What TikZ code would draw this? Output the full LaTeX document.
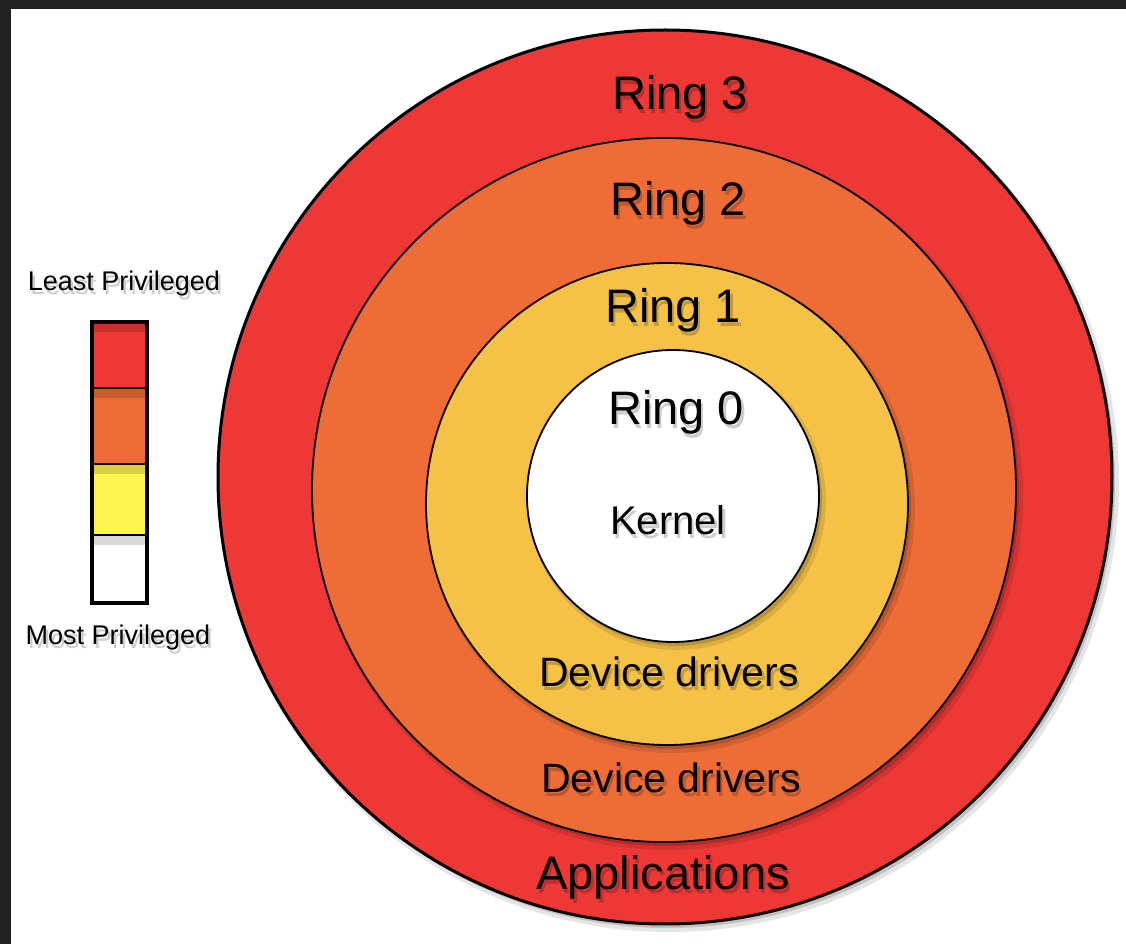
\documentclass[tikz,border=0pt]{standalone}
\usepackage{fontspec}
\setmainfont{Liberation Sans}
\usetikzlibrary{positioning}

\definecolor{ringred}{RGB}{238,56,54}
\definecolor{ringorange}{RGB}{238,109,55}
\definecolor{ringgold}{RGB}{246,194,69}
\definecolor{baryellow}{RGB}{254,245,78}
\definecolor{darkframe}{RGB}{34,34,34}

% text with a soft drop shadow: name, position, font size, text
\newcommand{\ringtext}[4]{%
  \node[font=\fontsize{#3}{#3}\selectfont, black, opacity=.2, xshift=1.2pt, yshift=-2pt] at (#2) {#4};
  \node[font=\fontsize{#3}{#3}\selectfont, black] (#1) at (#2) {#4};
}

\begin{document}
\begin{tikzpicture}[x=0.5pt, y=0.5pt]
        \useasboundingbox (0,0) rectangle (1126,944);

        % Frame and paper
        \fill[darkframe] (0,0) rectangle (1126,944);
        \fill[white] (11,0) rectangle (1126,935);

        % Rings, outermost first
        \foreach \cx/\cy/\r/\c/\w in {665/467/447/ringred/1.5pt, 664/454/352/ringorange/0.9pt,
                                       667/440/241/ringgold/0.9pt, 673/448/146/white/0.9pt} {
          \pgfmathsetmacro\rr{\r+3}
          \fill[black, opacity=.10] (\cx+4,\cy-5) circle[radius=\rr];
          \fill[black, opacity=.15] (\cx+3,\cy-4) circle[radius=\r];
          \filldraw[fill=\c, draw=black, line width=\w] (\cx,\cy) circle[radius=\r];
        }

        % Ring labels
        \ringtext{ring3}{680,847}{23.5}{Ring 3}
        \ringtext{ring2}{678,741}{23.5}{Ring 2}
        \ringtext{ring1}{673,634}{23.5}{Ring 1}
        \ringtext{ring0}{676,532}{23.5}{Ring 0}
        \ringtext{kernel}{668,424}{20}{Kernel}
        \ringtext{drivers1}{669,272}{20.5}{Device drivers}
        \ringtext{drivers2}{671,166}{20.5}{Device drivers}
        \ringtext{apps}{663,67}{23.5}{Applications}

        % Privilege legend bar
        \foreach \top/\bot/\c in {622/556/ringred, 556/480/ringorange, 480/409/baryellow, 409/341/white} {
          \fill[\c] (92,\bot) rectangle (147,\top);
          \fill[black, opacity=.15] (92,\top-10) rectangle (147,\top);
        }
        \foreach \y in {556, 480, 409}
          \draw[line width=1pt] (92,\y) -- (147,\y);
        \draw[line width=1.6pt] (92,341) rectangle (147,622);

        \ringtext{least}{124,660}{13.5}{Least Privileged}
        \ringtext{most}{118,306}{13.5}{Most Privileged}

      \end{tikzpicture}
\end{document}
